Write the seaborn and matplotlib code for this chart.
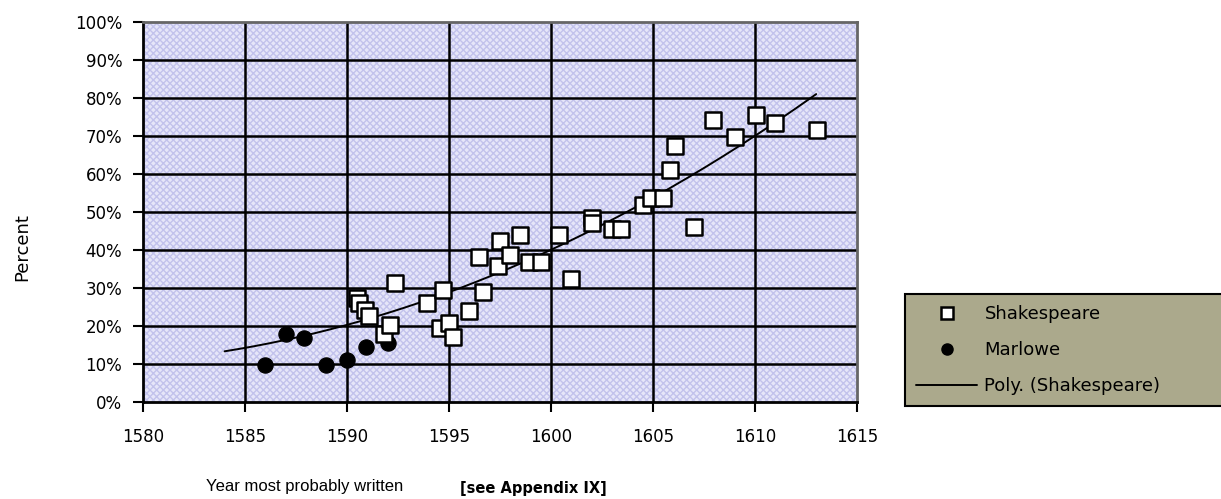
import numpy as np
import pandas as pd
import matplotlib
matplotlib.use("Agg")
import matplotlib.pyplot as plt
from matplotlib.patches import Rectangle
from matplotlib.lines import Line2D
import seaborn as sns

# data
shake_year = [1590.5, 1590.6, 1590.9, 1591.1, 1591.8, 1592.1, 1592.35, 1593.9,
              1594.55, 1594.7, 1595.0, 1595.2, 1596.0, 1596.45, 1596.65, 1597.4,
              1597.5, 1598.0, 1598.5, 1598.9, 1599.5, 1600.4, 1601.0, 1602.0,
              1602.0, 1603.0, 1603.45, 1604.5, 1604.9, 1605.5, 1605.85, 1606.1,
              1607.0, 1607.95, 1609.0, 1610.05, 1611.0, 1613.05]
shake_pct = [27.3, 26.0, 24.2, 22.6, 18.0, 20.3, 31.2, 26.0,
             19.6, 29.6, 20.9, 17.2, 24.0, 38.2, 29.0, 35.7,
             42.4, 38.7, 44.0, 36.9, 36.9, 44.0, 32.5, 48.3,
             47.2, 45.4, 45.4, 51.8, 53.6, 53.6, 61.0, 67.5,
             46.1, 74.2, 69.8, 75.5, 73.3, 71.6]
marlowe_year = [1586.0, 1587.0, 1587.9, 1588.95, 1590.0, 1590.95, 1592.0]
marlowe_pct = [9.7, 18.0, 16.8, 9.7, 11.0, 14.4, 15.4]
trend_from, trend_to = 1584, 1613

x_ticks = list(range(1580, 1616, 5))
y_ticks = list(range(0, 101, 10))

shake = pd.DataFrame({"year": shake_year, "pct": shake_pct})
marlowe = pd.DataFrame({"year": marlowe_year, "pct": marlowe_pct})

# 2nd order polynomial trend of the Shakespeare series
coef = np.polyfit(shake["year"], shake["pct"], 2)
tx = np.linspace(trend_from, trend_to, 200)
trend = pd.DataFrame({"year": tx, "pct": np.polyval(coef, tx)})

sns.set_style("white")
plt.rcParams["font.family"] = ["DejaVu Sans"]
plt.rcParams["text.color"] = "black"
plt.rcParams["xtick.color"] = "black"
plt.rcParams["ytick.color"] = "black"
plt.rcParams["hatch.linewidth"] = 1.0

fig = plt.figure(figsize=(12.21, 4.99), dpi=100)
ax = fig.add_axes([143/1221, 1-402/499, 714/1221, 380/499])

# dithered blue background
ax.add_patch(Rectangle((0, 0), 1, 1, transform=ax.transAxes, facecolor="#e6e6f9",
                       hatch="xxxxx", edgecolor="#c2c2ec", lw=0, zorder=0))

for x in x_ticks[1:-1]:
    ax.axvline(x, color="black", lw=1.8, zorder=1)
for y in y_ticks[1:-1]:
    ax.axhline(y, color="black", lw=1.8, zorder=1)

sns.lineplot(data=trend, x="year", y="pct", color="black", lw=1.4, ax=ax, zorder=3)
sns.scatterplot(data=marlowe, x="year", y="pct", marker="o", s=120, color="black",
                edgecolor="black", ax=ax, zorder=4)
sns.scatterplot(data=shake, x="year", y="pct", marker="s", s=140, color="white",
                edgecolor="black", linewidth=1.8, ax=ax, zorder=5)

ax.set_xlim(1580, 1615)
ax.set_ylim(0, 100)
ax.set_xticks(x_ticks)
ax.set_yticks(y_ticks)
ax.set_yticklabels([f"{v}%" for v in y_ticks])
ax.tick_params(axis="both", direction="out", length=7, width=1.5, color="black",
               labelcolor="black", labelsize=12, bottom=True, left=True)
ax.tick_params(axis="x", pad=12)
ax.tick_params(axis="y", pad=8)
for s in ["left", "bottom"]:
    ax.spines[s].set_color("black")
    ax.spines[s].set_linewidth(2)
for s in ["top", "right"]:
    ax.spines[s].set_color("#666666")
    ax.spines[s].set_linewidth(2)

ax.set_xlabel("")
ax.set_ylabel("")
fig.text(22/1221, 1-247/499, "Percent", rotation=90, ha="center", va="center", fontsize=13)
fig.text(305/1221, 1-486/499, "Year most probably written", ha="center", va="center",
         fontsize=12, family="Liberation Sans")
fig.text(460/1221, 1-489/499, "[see Appendix IX]", ha="left", va="center", fontsize=10.5,
         fontweight="bold")

handles = [
    Line2D([], [], marker="s", ls="none", markersize=9, markerfacecolor="white",
           markeredgecolor="black", markeredgewidth=1.8),
    Line2D([], [], marker="o", ls="none", markersize=8, color="black"),
    Line2D([], [], color="black", lw=1.4),
]
leg = fig.legend(handles, ["Shakespeare", "Marlowe", "Poly. (Shakespeare)"],
                 loc="lower left", bbox_to_anchor=(905/1221, 1-406/499, 330/1221, 113/499),
                 mode="expand", fontsize=13, frameon=True, fancybox=False, framealpha=1,
                 facecolor="#aba98c", edgecolor="black", borderpad=0.6,
                 labelspacing=1.0, handlelength=3.4, handletextpad=0.4,
                 borderaxespad=0)
leg.get_frame().set_linewidth(1.5)
for t in leg.get_texts():
    t.set_color("black")

fig.savefig("out.png", dpi=100, facecolor="white")
